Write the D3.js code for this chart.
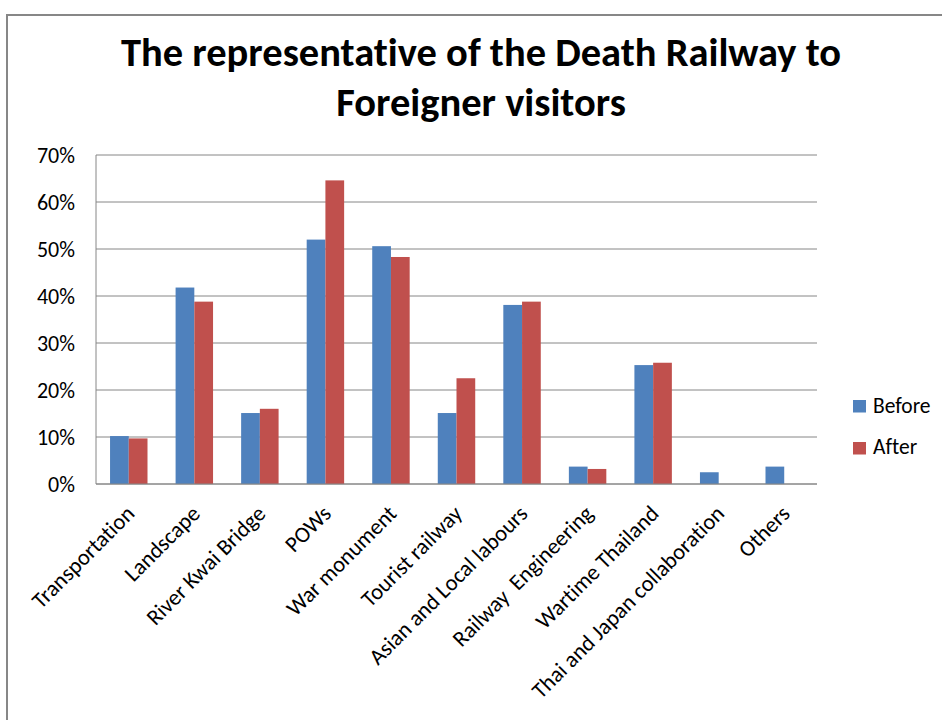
<!DOCTYPE html>
<html><head><meta charset="utf-8">
<script src="https://cdn.jsdelivr.net/npm/d3@7/dist/d3.min.js"></script>
<style>
body{margin:0;background:#fff;}
svg text{font-family:Carlito,Calibri,"Open Sans",sans-serif;font-variant-ligatures:none;font-feature-settings:"liga" 0;}
</style></head>
<body><svg id="c" width="942" height="720"></svg>
<script>
const categories = ["Transportation","Landscape","River Kwai Bridge","POWs","War monument","Tourist railway","Asian and Local labours","Railway  Engineering","Wartime Thailand","Thai and Japan collaboration","Others"];
const before = [10.2, 41.8, 15.1, 52.0, 50.6, 15.1, 38.1, 3.7, 25.3, 2.5, 3.7];
const after  = [9.7, 38.8, 16.0, 64.6, 48.3, 22.5, 38.8, 3.2, 25.8, null, null];
const seriesNames = ["Before","After"];
const seriesColors = ["#4f81bd","#c0504d"];
const yTicks = [0,10,20,30,40,50,60,70];
const titleLines = ["The representative of the Death Railway to","Foreigner visitors"];

const FONT = "Carlito,Calibri,'Open Sans',sans-serif";
const svg = d3.select("#c");
// frame
svg.append("rect").attr("x",7).attr("y",15).attr("width",960).attr("height",720)
  .attr("fill","none").attr("stroke","#878787").attr("stroke-width",2);

const m = {left:96, right:817, top:155, bottom:484};
const x = d3.scaleBand().domain(categories).range([m.left,m.right]).paddingInner(1.5/3.5).paddingOuter(0.75/3.5);
const y = d3.scaleLinear().domain([0,70]).range([m.bottom,m.top]);
const xs = d3.scaleBand().domain(seriesNames).range([0,x.bandwidth()]);

// gridlines
svg.append("g").selectAll("line").data(yTicks).join("line")
  .attr("x1",m.left).attr("x2",m.right).attr("y1",d=>y(d)).attr("y2",d=>y(d))
  .attr("stroke","#868686").attr("stroke-width",1);
// y axis line
svg.append("line").attr("x1",m.left).attr("x2",m.left).attr("y1",m.top).attr("y2",m.bottom).attr("stroke","#868686");

// y labels
const yAxis = svg.append("g").attr("transform",`translate(${m.left},0)`)
  .call(d3.axisLeft(y).tickValues(yTicks).tickFormat(d=>d+"%").tickSize(0).tickPadding(21));
yAxis.select(".domain").remove();
yAxis.selectAll("text").attr("font-size",22).attr("fill","#000").style("font-family",FONT);

// bars
const data = [before, after];
data.forEach((vals,si)=>{
  svg.append("g").selectAll("rect").data(categories.map((c,i)=>({c,v:vals[i]})).filter(d=>d.v!=null)).join("rect")
    .attr("x",d=>x(d.c)+xs(seriesNames[si]))
    .attr("width",xs.bandwidth())
    .attr("y",d=>y(d.v)).attr("height",d=>y(0)-y(d.v))
    .attr("fill",seriesColors[si]);
});
// x-axis baseline
svg.append("line").attr("x1",m.left).attr("x2",m.right).attr("y1",m.bottom).attr("y2",m.bottom).attr("stroke","#868686");

// x labels
const xAxis = svg.append("g").attr("transform",`translate(0,${m.bottom})`)
  .call(d3.axisBottom(x).tickSize(0).tickPadding(0));
xAxis.select(".domain").remove();
xAxis.selectAll("text").attr("font-size",22.5).attr("fill","#000")
  .style("font-family",FONT)
  .attr("text-anchor","end").attr("dy",0)
  .attr("transform","translate(7,31) rotate(-45)")
  .attr("y",0).attr("x",0)
  .style("white-space","pre");

// title
svg.append("g").selectAll("text").data(titleLines).join("text")
  .attr("x",481).attr("y",(d,i)=>66+i*50).attr("text-anchor","middle")
  .attr("font-size",40.5).attr("font-weight","bold").attr("fill","#000").text(d=>d);

// legend
const lg = svg.append("g");
seriesNames.forEach((s,i)=>{
  lg.append("rect").attr("x",853).attr("y",400+i*42).attr("width",13).attr("height",12.5).attr("fill",seriesColors[i]);
  lg.append("text").attr("x",873).attr("y",413+i*41).attr("font-size",21.5).attr("fill","#000").text(s);
});
</script></body></html>
